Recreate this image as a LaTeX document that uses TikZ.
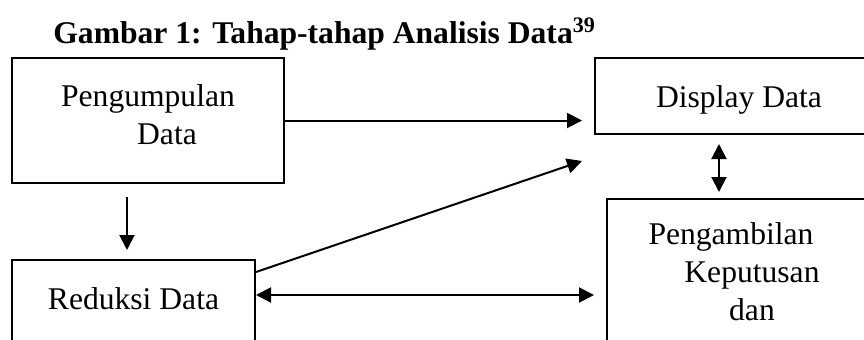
\documentclass[tikz,border=0pt]{standalone}
\usepackage{fontspec}
\setmainfont{Liberation Serif}
\usetikzlibrary{positioning,arrows.meta}

\begin{document}
\begin{tikzpicture}[
  x=0.5pt, y=-0.5pt,
  font=\fontsize{15.8}{19}\selectfont,
  box/.style={draw, line width=1pt, inner sep=0pt, align=center, anchor=north west},
  ttl/.style={font=\fontsize{15.8}{19}\selectfont\bfseries, anchor=base west, inner sep=0pt},
  arr/.style={-{Triangle[length=7.5pt, width=7.5pt]}, line width=1pt},
  dbl/.style={{Triangle[length=7.5pt, width=7.5pt]}-{Triangle[length=7.5pt, width=7.5pt]}, line width=1pt}
]
  \useasboundingbox (0,0) rectangle (864,339);
  \clip (0,0) rectangle (864,339);

  \node[ttl] (title) at (53,43) {Gambar 1: Tahap-tahap Analisis Data\textsuperscript{39}};

  % boxes
  \node[box, minimum width=136pt, text height=43pt, text depth=19.5pt] (pengumpulan) at (11,57)
    {Pengumpulan\\\hspace*{19pt}Data};
  \node[box, minimum width=121.5pt, text height=24.5pt, text depth=30pt,
    below=37.5pt of pengumpulan.south west, anchor=north west] (reduksi) {Reduksi Data};
  \node[box, minimum width=144pt, text height=24.5pt, text depth=13.5pt,
    right=154.5pt of pengumpulan.north east, anchor=north west] (display) {Display Data};
  \node[box, minimum width=145pt, text height=60.5pt, text depth=53pt,
    below=31.5pt of display.south west, anchor=north west, xshift=6pt] (pengambilan)
    {Pengambilan\hspace*{21pt}\\Keputusan\\dan};

  % arrows
  \draw[arr] (pengumpulan.east) -- ([xshift=-6pt]display.west |- pengumpulan.east);
  \draw[arr] ([xshift=58pt, yshift=-6.5pt]pengumpulan.south west) -- ([xshift=58pt, yshift=4.5pt]reduksi.north west);
  \draw[arr] ([yshift=-6.5pt]reduksi.north east) -- ([xshift=-6pt, yshift=-13pt]display.south west);
  \draw[dbl] ([yshift=-18pt]reduksi.north east) coordinate (r) -- ([xshift=-6pt]pengambilan.west |- r);
  \draw[dbl] ([xshift=-10pt, yshift=-4.5pt]display.south) coordinate (d) -- ([yshift=3pt]d |- pengambilan.north);
\end{tikzpicture}
\end{document}
